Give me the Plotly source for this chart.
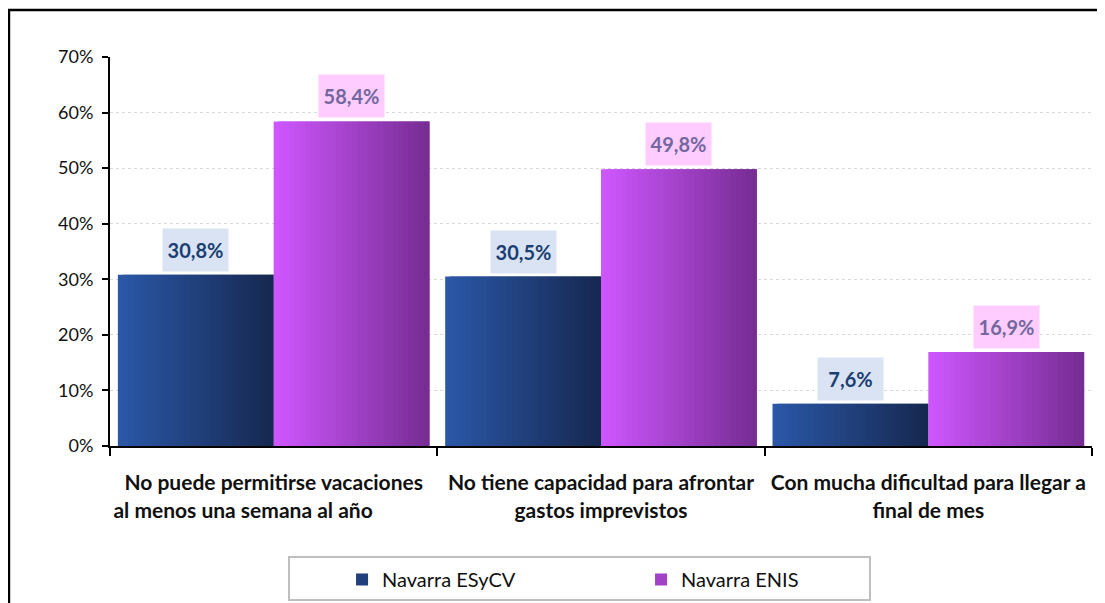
import plotly.graph_objects as go

# datos
categorias = [
    "No puede permitirse vacaciones<br>al menos una semana al año",
    "No tiene capacidad para afrontar<br>gastos imprevistos",
    "Con mucha dificultad para llegar a<br>final de mes",
]
esycv = [0.308, 0.305, 0.076]
enis = [0.584, 0.498, 0.169]
etiquetas_esycv = ["30,8%", "30,5%", "7,6%"]
etiquetas_enis = ["58,4%", "49,8%", "16,9%"]
y_ticks = [0, 0.1, 0.2, 0.3, 0.4, 0.5, 0.6, 0.7]
y_ticktext = ["0%", "10%", "20%", "30%", "40%", "50%", "60%", "70%"]

# espacios para imitar la alineacion de excel en la segunda linea
relleno = [12, 0, 0]
ticktext = []
for c, n in zip(categorias, relleno):
    a, b = c.split("<br>")
    ticktext.append("<b>" + a + "<br>" + b + "\u00a0" * n + "</b>")


def mezcla(c1, c2, t):
    return "rgb(%d,%d,%d)" % tuple(round(c1[k] + (c2[k] - c1[k]) * t) for k in range(3))


series = [
    ("Navarra ESyCV", esycv, (43, 88, 168), (22, 40, 80), -0.476),
    ("Navarra ENIS", enis, (207, 87, 255), (118, 44, 146), 0.0),
]
ancho = 0.476
n_trozos = 30

fig = go.Figure()
# cada barra en franjas solapadas para simular el degradado
for nombre, valores, c1, c2, desplaz in series:
    w = ancho / n_trozos
    for i in range(n_trozos):
        fig.add_trace(go.Bar(
            x=categorias, y=valores,
            name=nombre, legendgroup=nombre,
            showlegend=(i == n_trozos // 2),
            marker=dict(color=mezcla(c1, c2, (i + 0.5) / n_trozos), line=dict(width=0)),
            width=w * (2 if i < n_trozos - 1 else 1), offset=desplaz + i * w,
            hoverinfo="skip",
        ))

# etiquetas de datos
for j in range(len(categorias)):
    fig.add_annotation(x=j - ancho / 2, y=esycv[j], text="<b>%s</b>" % etiquetas_esycv[j],
                       xref="x", yref="y", showarrow=False, yanchor="bottom", yshift=3,
                       bgcolor="#DAE3F3", width=63, height=40,
                       font=dict(family="Lato", size=20, color="#1A3F72"))
    fig.add_annotation(x=j + ancho / 2, y=enis[j], text="<b>%s</b>" % etiquetas_enis[j],
                       xref="x", yref="y", showarrow=False, yanchor="bottom", yshift=3,
                       bgcolor="#FFCCFF", width=63, height=40,
                       font=dict(family="Lato", size=20, color="#72689E"))

# marco exterior y recuadro de la leyenda
fig.add_shape(type="rect", xref="paper", yref="paper",
              x0=-0.1029, x1=1.0092, y0=-0.45, y1=1.1208,
              line=dict(color="black", width=2.5), layer="below")
fig.add_shape(type="rect", xref="paper", yref="paper",
              x0=0.1823, x1=0.7739, y0=-0.3959, y1=-0.2853,
              line=dict(color="#BFBFBF", width=2), layer="below")

# la pagina deja 8px de margen, asi que la figura es algo menor que la ventana
fig.update_layout(
    width=1097, height=595,
    margin=dict(l=102, r=13, t=49, b=157, autoexpand=False),
    paper_bgcolor="white", plot_bgcolor="white",
    barmode="overlay",
    font=dict(family="Lato", color="#111111"),
    showlegend=True,
    legend=dict(orientation="h", x=0.2363, xanchor="left", y=-0.293, yanchor="top",
                borderwidth=0, bgcolor="rgba(0,0,0,0)",
                entrywidth=254, entrywidthmode="pixels",
                font=dict(family="Lato", size=20, color="#111111")),
    xaxis=dict(type="category", tickvals=categorias, ticktext=ticktext,
               tickson="boundaries", ticks="outside", ticklen=8, tickwidth=2,
               tickcolor="black", showline=True, linecolor="black", linewidth=2,
               showgrid=False, ticklabelstandoff=17, tickangle=0,
               tickfont=dict(family="Lato", size=21, color="#111111")),
    yaxis=dict(range=[0, 0.7], tickvals=y_ticks, ticktext=y_ticktext,
               ticks="outside", ticklen=6, tickwidth=2, tickcolor="black",
               showline=True, linecolor="black", linewidth=2,
               showgrid=True, gridcolor="#D9D9D9", griddash="dot", gridwidth=1,
               ticklabelstandoff=5, zeroline=False,
               tickfont=dict(family="Lato", size=18, color="#111111")),
)

fig.write_html("out.html")
